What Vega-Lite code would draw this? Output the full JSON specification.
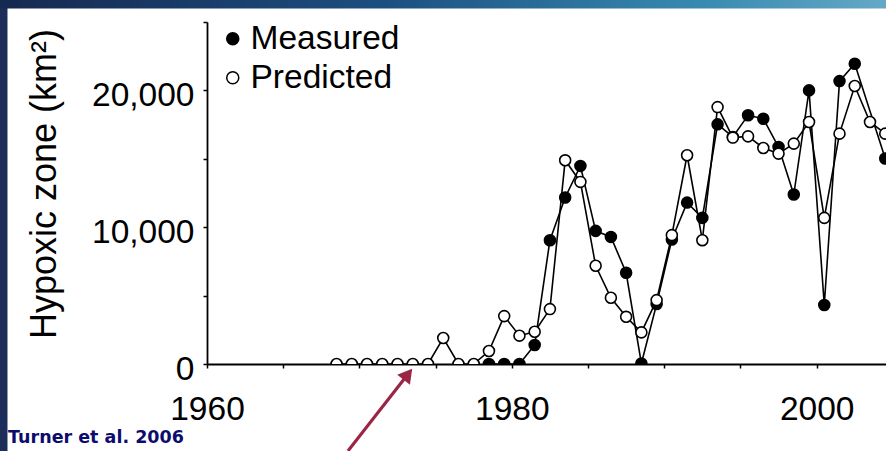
{
  "$schema": "https://vega.github.io/schema/vega-lite/v6.json",
  "autosize": {"type": "none"},
  "width": 679,
  "height": 342,
  "padding": {"left": 207, "top": 22, "right": 0, "bottom": 87},
  "background": "white",
  "config": {
    "font": "Liberation Sans",
    "view": {"stroke": null},
    "axis": {"grid": false, "domainColor": "black", "domainWidth": 1.8, "tickColor": "black", "tickWidth": 1.5, "labelColor": "black", "titleColor": "black", "labelFont": "Liberation Sans", "titleFont": "Liberation Sans", "zindex": 1}
  },
  "datasets": {
    "series": [
      {"year": 1978.5, "value": 0, "series": "Measured"},
      {"year": 1979.5, "value": 0, "series": "Measured"},
      {"year": 1980.5, "value": 0, "series": "Measured"},
      {"year": 1981.5, "value": 1390, "series": "Measured"},
      {"year": 1982.5, "value": 9050, "series": "Measured"},
      {"year": 1983.5, "value": 12170, "series": "Measured"},
      {"year": 1984.5, "value": 14480, "series": "Measured"},
      {"year": 1985.5, "value": 9730, "series": "Measured"},
      {"year": 1986.5, "value": 9290, "series": "Measured"},
      {"year": 1987.5, "value": 6670, "series": "Measured"},
      {"year": 1988.5, "value": 40, "series": "Measured"},
      {"year": 1989.5, "value": 4380, "series": "Measured"},
      {"year": 1990.5, "value": 9100, "series": "Measured"},
      {"year": 1991.5, "value": 11800, "series": "Measured"},
      {"year": 1992.5, "value": 10680, "series": "Measured"},
      {"year": 1993.5, "value": 17520, "series": "Measured"},
      {"year": 1994.5, "value": 16600, "series": "Measured"},
      {"year": 1995.5, "value": 18180, "series": "Measured"},
      {"year": 1996.5, "value": 17930, "series": "Measured"},
      {"year": 1997.5, "value": 15860, "series": "Measured"},
      {"year": 1998.5, "value": 12390, "series": "Measured"},
      {"year": 1999.5, "value": 20000, "series": "Measured"},
      {"year": 2000.5, "value": 4310, "series": "Measured"},
      {"year": 2001.5, "value": 20680, "series": "Measured"},
      {"year": 2002.5, "value": 21950, "series": "Measured"},
      {"year": 2004.5, "value": 15020, "series": "Measured"},
      {"year": 1968.5, "value": 0, "series": "Predicted"},
      {"year": 1969.5, "value": 0, "series": "Predicted"},
      {"year": 1970.5, "value": 0, "series": "Predicted"},
      {"year": 1971.5, "value": 0, "series": "Predicted"},
      {"year": 1972.5, "value": 0, "series": "Predicted"},
      {"year": 1973.5, "value": 0, "series": "Predicted"},
      {"year": 1974.5, "value": 0, "series": "Predicted"},
      {"year": 1975.5, "value": 1900, "series": "Predicted"},
      {"year": 1976.5, "value": 0, "series": "Predicted"},
      {"year": 1977.5, "value": 0, "series": "Predicted"},
      {"year": 1978.5, "value": 950, "series": "Predicted"},
      {"year": 1979.5, "value": 3500, "series": "Predicted"},
      {"year": 1980.5, "value": 2070, "series": "Predicted"},
      {"year": 1981.5, "value": 2360, "series": "Predicted"},
      {"year": 1982.5, "value": 4015, "series": "Predicted"},
      {"year": 1983.5, "value": 14890, "series": "Predicted"},
      {"year": 1984.5, "value": 13310, "series": "Predicted"},
      {"year": 1985.5, "value": 7180, "series": "Predicted"},
      {"year": 1986.5, "value": 4840, "series": "Predicted"},
      {"year": 1987.5, "value": 3450, "series": "Predicted"},
      {"year": 1988.5, "value": 2310, "series": "Predicted"},
      {"year": 1989.5, "value": 4670, "series": "Predicted"},
      {"year": 1990.5, "value": 9420, "series": "Predicted"},
      {"year": 1991.5, "value": 15260, "series": "Predicted"},
      {"year": 1992.5, "value": 9050, "series": "Predicted"},
      {"year": 1993.5, "value": 18780, "series": "Predicted"},
      {"year": 1994.5, "value": 16550, "series": "Predicted"},
      {"year": 1995.5, "value": 16640, "series": "Predicted"},
      {"year": 1996.5, "value": 15790, "series": "Predicted"},
      {"year": 1997.5, "value": 15380, "series": "Predicted"},
      {"year": 1998.5, "value": 16110, "series": "Predicted"},
      {"year": 1999.5, "value": 17690, "series": "Predicted"},
      {"year": 2000.5, "value": 10680, "series": "Predicted"},
      {"year": 2001.5, "value": 16840, "series": "Predicted"},
      {"year": 2002.5, "value": 20320, "series": "Predicted"},
      {"year": 2003.5, "value": 17690, "series": "Predicted"},
      {"year": 2004.5, "value": 16840, "series": "Predicted"}
    ]
  },
  "layer": [
    {
      "data": {"values": [{"year": 1946, "year2": 1946.91, "value": -7000, "value2": 27000}]},
      "mark": {"type": "rect", "clip": false, "fill": "#1b2d58"},
      "encoding": {
        "x": {"field": "year", "type": "quantitative", "scale": {"domain": [1960, 2004.55], "nice": false, "zero": false}, "axis": {"title": null, "values": [1960, 1962.5, 1965, 1967.5, 1970, 1972.5, 1975, 1977.5, 1980, 1982.5, 1985, 1987.5, 1990, 1992.5, 1995, 1997.5, 2000, 2002.5], "labelExpr": "datum.value % 20 === 0 ? '' + datum.value : ''", "tickSize": 4, "labelFontSize": 33.5, "labelPadding": 25, "labelFlush": false, "labelOverlap": false}},
        "x2": {"field": "year2"},
        "y": {"field": "value", "type": "quantitative", "scale": {"domain": [0, 25000], "nice": false}, "axis": {"title": "Hypoxic zone (km²)", "values": [0, 1250, 2500, 3750, 5000, 6250, 7500, 8750, 10000, 11250, 12500, 13750, 15000, 16250, 17500, 18750, 20000, 21250, 22500, 23750, 25000], "labelExpr": "datum.value % 10000 === 0 ? format(datum.value, ',') : ''", "tickSize": 4, "labelFontSize": 33.5, "labelPadding": 9, "labelOffset": 5, "labelOverlap": false, "titleFontSize": 36, "titleFontWeight": "normal", "titleX": -163, "titleY": 161.5, "titleAngle": 270, "titleAlign": "center", "titleBaseline": "middle"}},
        "y2": {"field": "value2"}
      }
    },
    {
      "data": {"values": [{"year": 1946, "year2": 2010, "value": 25985, "value2": 27000}]},
      "mark": {"type": "rect", "clip": false, "fill": {"gradient": "linear", "x1": 0, "y1": 0, "x2": 1, "y2": 0, "stops": [{"offset": 0, "color": "#16284f"}, {"offset": 0.4, "color": "#1c4f80"}, {"offset": 0.72, "color": "#3789b0"}, {"offset": 1, "color": "#78b6cf"}]}},
      "encoding": {
        "x": {"field": "year", "type": "quantitative"},
        "x2": {"field": "year2"},
        "y": {"field": "value", "type": "quantitative"},
        "y2": {"field": "value2"}
      }
    },
    {
      "data": {"name": "series"},
      "mark": {"type": "line", "clip": true, "color": "black", "strokeWidth": 1.6},
      "encoding": {
        "x": {"field": "year", "type": "quantitative"},
        "y": {"field": "value", "type": "quantitative"},
        "detail": {"field": "series", "type": "nominal"}
      }
    },
    {
      "data": {"name": "series"},
      "mark": {"type": "point", "clip": true, "shape": "circle", "filled": false, "stroke": "black", "strokeWidth": 1.6, "opacity": 1, "size": 120},
      "encoding": {
        "x": {"field": "year", "type": "quantitative"},
        "y": {"field": "value", "type": "quantitative"},
        "fill": {"field": "series", "type": "nominal", "scale": {"domain": ["Measured", "Predicted"], "range": ["black", "white"]}, "legend": {"orient": "none", "legendX": 9, "legendY": 0, "title": null, "direction": "vertical", "labelFontSize": 33.5, "labelFont": "Liberation Sans", "labelColor": "black", "symbolType": "circle", "symbolSize": 145, "symbolStrokeColor": "black", "symbolStrokeWidth": 1.5, "symbolOpacity": 1, "labelOffset": 1, "rowPadding": 4, "padding": 0}}
      }
    },
    {
      "data": {"values": [{"year": 1969.25, "value": -6350, "year2": 1973.18, "value2": -745}]},
      "mark": {"type": "rule", "clip": false, "color": "#9b2545", "strokeWidth": 3.2},
      "encoding": {
        "x": {"field": "year", "type": "quantitative"},
        "y": {"field": "value", "type": "quantitative"},
        "x2": {"field": "year2"},
        "y2": {"field": "value2"}
      }
    },
    {
      "data": {"values": [{"year": 1973.18, "value": -745}]},
      "mark": {"type": "point", "clip": false, "shape": "triangle-up", "filled": true, "color": "#9b2545", "opacity": 1, "size": 260, "angle": 38},
      "encoding": {
        "x": {"field": "year", "type": "quantitative"},
        "y": {"field": "value", "type": "quantitative"}
      }
    },
    {
      "data": {"values": [{"year": 1946.95, "value": -5400, "label": "Turner et al. 2006"}]},
      "mark": {"type": "text", "clip": false, "align": "left", "baseline": "middle", "font": "DejaVu Sans", "fontWeight": "bold", "fontSize": 17.5, "color": "#0c0c6e"},
      "encoding": {
        "x": {"field": "year", "type": "quantitative"},
        "y": {"field": "value", "type": "quantitative"},
        "text": {"field": "label"}
      }
    }
  ]
}
